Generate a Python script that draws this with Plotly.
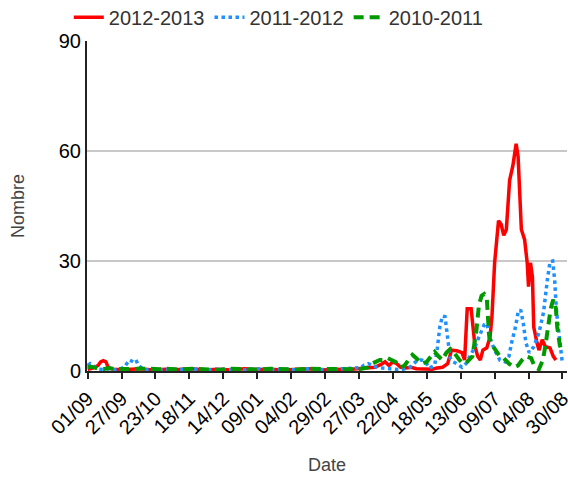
import plotly.graph_objects as go

tick_days = [0, 26, 52, 78, 104, 130, 156, 182, 208, 234, 260, 286, 312, 338, 364]
tick_labels = ["01/09", "27/09", "23/10", "18/11", "14/12", "09/01", "04/02", "29/02",
               "27/03", "22/04", "18/05", "13/06", "09/07", "04/08", "30/08"]

red_days = [0, 4, 8, 10, 12, 14, 16, 20,
            30, 40, 50, 60, 70, 80, 90, 100, 110, 120, 130, 140, 150, 160, 170, 180, 190, 200, 210,
            215, 220, 225, 228, 231, 234, 237, 240,
            244, 248, 252, 256, 260, 264, 268, 272, 276,
            279, 283, 287, 289, 291, 294, 297, 299, 301, 303, 306,
            308.5, 310, 312, 315, 317, 319, 321, 323.5, 326, 328.5,
            330, 331.5, 332.5, 335, 337, 338, 339.5, 341, 342, 344.5,
            346, 348.5, 351, 354.5, 357, 359]
red_vals = [0.5, 0.8, 1.5, 2.5, 2.8, 2.5, 0.8, 0.5,
            0.4, 0.6, 0.3, 0.5, 0.4, 0.6, 0.3, 0.5, 0.3, 0.6, 0.4, 0.5, 0.3, 0.4, 0.6, 0.3, 0.5, 0.4, 0.6,
            0.8, 1.0, 1.8, 2.5, 1.5, 2.5, 2.0, 1.0,
            0.8, 1.0, 0.6, 0.5, 0.4, 0.5, 0.8, 1.0, 2.0,
            5.7, 5.5, 5.0, 3.0, 17, 17, 6.6, 4, 3, 5.7, 6.3,
            9.3, 15, 29.5, 41, 40, 37, 38.6, 52, 56, 62,
            58.5, 47.6, 38.6, 35.8, 29.5, 23, 29.5, 25.7, 12, 7.7,
            5.7, 8.5, 6.6, 6.3, 4, 3]

blue_days = [0, 2, 4, 6, 8, 12, 16, 20, 24, 28,
             30, 32, 35, 37, 39, 42, 46, 50, 55, 60,
             70, 80, 90, 100, 110, 120, 130, 140, 150, 160, 170, 180, 190, 200,
             205, 210, 212, 215, 218, 222, 226, 230, 234, 238,
             242, 247, 250, 253, 256, 259, 262, 266, 268, 270,
             272, 274, 276, 278, 280, 283, 287, 290, 293, 297,
             300, 304, 306, 308, 312, 316, 320, 323, 325, 328,
             330, 332, 334, 336, 338.5, 342, 346, 349.5, 352.5, 354.5,
             356.5, 358, 359.5, 362, 364]
blue_vals = [1.5, 2.0, 1.5, 1.0, 0.5, 0.4, 0.6, 0.3, 0.5, 1.0,
             2.0, 3.0, 2.5, 3.0, 1.5, 0.6, 0.3, 0.5, 0.3, 0.5,
             0.4, 0.6, 0.3, 0.5, 0.4, 0.3, 0.6, 0.4, 0.5, 0.3, 0.6, 0.4, 0.5, 0.6,
             0.8, 1.0, 1.6, 2.0, 1.5, 1.0, 0.8, 0.6, 0.5, 0.4,
             0.5, 1.0, 2.0, 3.0, 3.0, 2.5, 0.8, 1.5, 6, 12,
             15, 14.8, 9, 3.5, 2.5, 2, 1, 2, 4, 6.6,
             9.3, 12.6, 13, 9.3, 5.7, 3, 2.5, 4, 7.7, 12,
             16, 16.7, 13, 7.7, 5, 6.6, 10.4, 16, 25, 29.8,
             30, 25, 16, 7.7, 2]

green_days = [0, 2, 5, 8, 12, 16, 20, 25, 30, 35,
              40, 45, 50, 55, 60, 70, 80, 90, 100, 110,
              120, 130, 140, 150, 160, 170, 180, 190, 200, 210,
              215, 218, 221, 224, 227, 230, 233, 236, 240, 243,
              246, 249, 252, 256, 260, 263, 266, 269, 272, 275,
              278, 281, 285, 288, 291, 295, 298, 300, 302, 304,
              306, 307, 308, 311, 316, 319, 323, 327, 330, 333,
              336, 340, 343, 346, 349, 351, 353, 355, 357, 359,
              360, 362, 364]
green_vals = [1.0, 1.2, 1.0, 0.6, 0.5, 0.8, 0.6, 0.5, 0.4, 0.5,
              0.7, 0.6, 0.4, 0.5, 0.6, 0.4, 0.6, 0.5, 0.3, 0.6,
              0.5, 0.4, 0.6, 0.5, 0.4, 0.6, 0.5, 0.4, 0.5, 0.6,
              1.0, 2.0, 2.5, 3.0, 3.0, 3.5, 3.0, 2.5, 1.0, 1.5,
              3, 4.4, 3.5, 2, 2.5, 4, 5.2, 4, 3, 5,
              6, 5, 3, 2, 2.5, 4, 11, 18, 20.5, 21,
              20, 14, 9, 6.6, 4, 3.5, 2, 1, 1.5, 3,
              4, 3.5, 1, 0.5, 3, 7, 12, 17, 19.5, 17,
              12, 7, 5]

FONT = "Liberation Sans, Arial, sans-serif"

fig = go.Figure()
fig.add_trace(go.Scatter(x=red_days, y=red_vals, mode="lines", name="2012-2013",
                         line=dict(color="#ff0000", width=3.5)))
fig.add_trace(go.Scatter(x=blue_days, y=blue_vals, mode="lines", name="2011-2012",
                         line=dict(color="#1e90ff", width=3.5, dash="dot")))
fig.add_trace(go.Scatter(x=green_days, y=green_vals, mode="lines", name="2010-2011",
                         line=dict(color="#009900", width=4, dash="10px,6px")))

fig.update_layout(
    width=568, height=477,
    margin=dict(l=87, r=1, t=41, b=106),
    paper_bgcolor="white", plot_bgcolor="white",
    font=dict(family=FONT, size=20, color="#111111"),
    showlegend=True,
    legend=dict(orientation="h", xref="container", yref="container",
                x=0.49, xanchor="center", y=0.964, yanchor="middle",
                font=dict(size=20, color="#333333"), itemwidth=30,
                bgcolor="rgba(0,0,0,0)"),
    xaxis=dict(range=[-0.5, 367.5], tickmode="array", tickvals=tick_days, ticktext=tick_labels,
               tickangle=-45, ticks="outside", ticklen=6, tickwidth=2, tickcolor="#222222",
               showline=True, linecolor="#222222", linewidth=2, showgrid=False, zeroline=False,
               automargin=False, ticklabeloverflow="allow",
               tickfont=dict(size=20, color="#000000"),
               title=dict(text="Date", font=dict(size=18, color="#444444"), standoff=21)),
    yaxis=dict(range=[0, 90], tickmode="array", tickvals=[0, 30, 60, 90],
               showline=True, linecolor="#222222", linewidth=2, showgrid=True,
               gridcolor="#c8c8c8", gridwidth=1.5, zeroline=False, ticks="",
               automargin=False,
               tickfont=dict(size=20, color="#000000"),
               title=dict(text="Nombre", font=dict(size=18, color="#444444"), standoff=29)),
)

fig.write_html("out.html", config={"displayModeBar": False},
               post_script="document.body.style.margin='0';document.body.style.overflow='hidden';")
